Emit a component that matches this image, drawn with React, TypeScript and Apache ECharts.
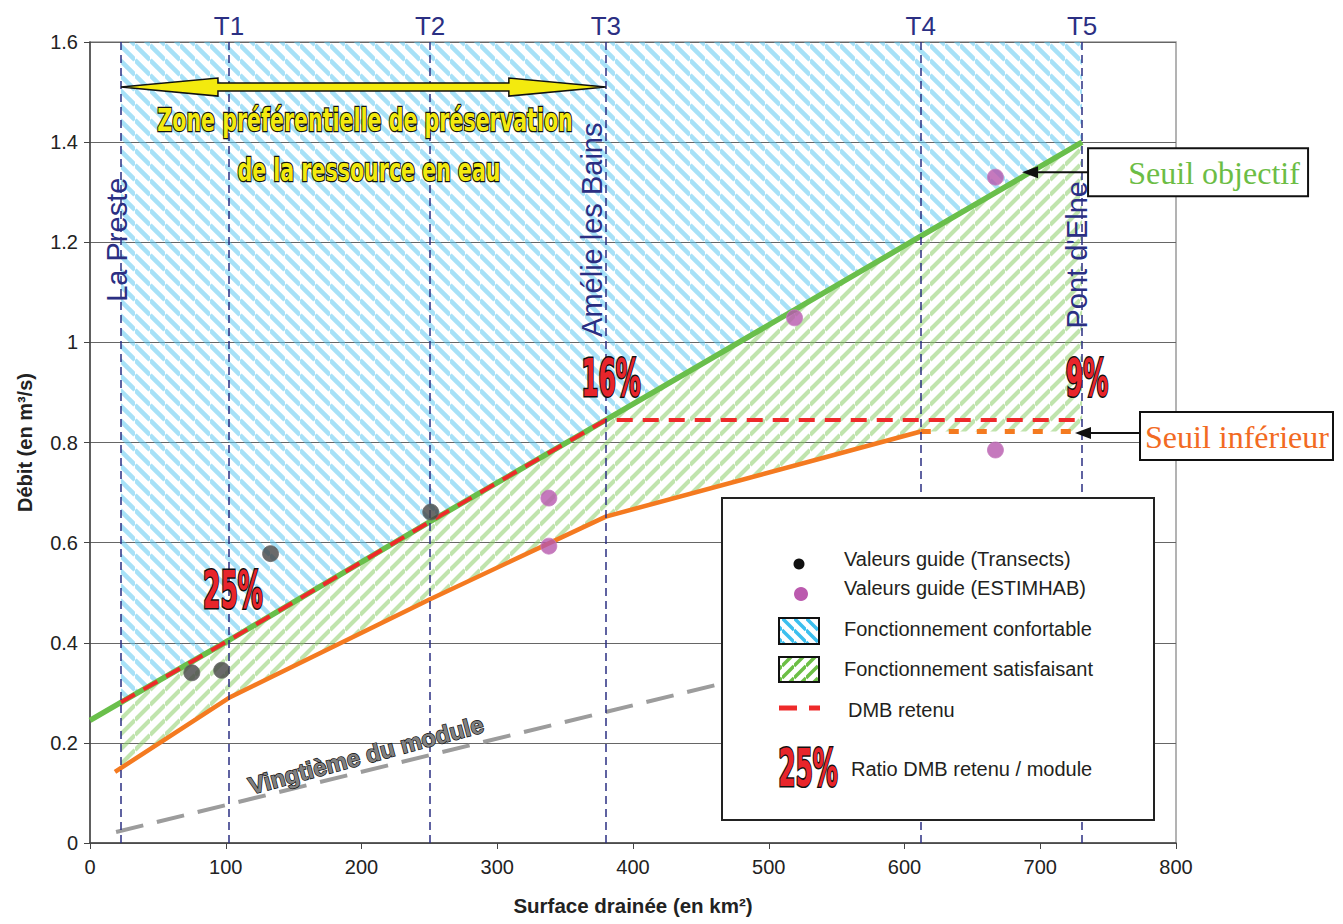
import React, { useEffect, useRef } from "react";
import * as echarts from "echarts";

// ---------- data ----------
const xTickValues = [0, 100, 200, 300, 400, 500, 600, 700, 800];
const yTickValues = [0, 0.2, 0.4, 0.6, 0.8, 1, 1.2, 1.4, 1.6];

const stationX = [22.8, 102.4, 250.5, 380, 612, 730.8];
const stationTopLabels = ["", "T1", "T2", "T3", "T4", "T5"];
const stationNames = ["La Preste", "Amélie les Bains", "Pont d'Elne"];

const objectifX = [0, 22.8, 102.4, 250.5, 380, 612, 730.8];
const objectifY = [0.245, 0.281, 0.405, 0.642, 0.845, 1.212, 1.4];

const inferieurX = [18.4, 102.4, 250.5, 380, 612];
const inferieurY = [0.142, 0.29, 0.487, 0.652, 0.822];
const inferieurPlateauX = [612, 730.8];
const inferieurPlateauY = [0.822, 0.822];

const satisfaisantLowerX = [730.8, 612, 380, 250.5, 102.4, 22.8];
const satisfaisantLowerY = [0.822, 0.822, 0.652, 0.487, 0.29, 0.15];

const dmbX = [22.8, 102.4, 250.5, 380, 730.8];
const dmbY = [0.281, 0.405, 0.642, 0.845, 0.845];

const vingtiemeX = [19.2, 730.8];
const vingtiemeY = [0.022, 0.495];

const transectsX = [75, 97, 133, 251];
const transectsY = [0.34, 0.345, 0.578, 0.661];
const estimhabX = [338, 338, 519, 667, 667];
const estimhabY = [0.689, 0.593, 1.049, 1.33, 0.785];

const ratioLabels = ["25%", "16%", "9%"];
const legendLabels = [
  "Valeurs guide (Transects)",
  "Valeurs guide (ESTIMHAB)",
  "Fonctionnement confortable",
  "Fonctionnement satisfaisant",
  "DMB retenu",
  "Ratio DMB retenu / module",
];
const zoneLines = ["Zone préférentielle de préservation", "de la ressource en eau"];
const seuilLabels = ["Seuil objectif", "Seuil inférieur"];
const vingtiemeLabel = "Vingtième du module";

// ---------- styles ----------
const SANS = "'Liberation Sans', Arial, Helvetica, sans-serif";
const NARROW = "'Liberation Sans Narrow', 'DejaVu Sans Condensed', 'Liberation Sans', sans-serif";
const SERIF = "'Liberation Serif', 'Times New Roman', serif";
const NAVY = "#2b2f83";

function makeHatch(dir: "back" | "fwd", color: string, p: number, lw: number) {
  const c = document.createElement("canvas");
  c.width = p;
  c.height = p;
  const ctx = c.getContext("2d")!;
  ctx.strokeStyle = color;
  ctx.lineWidth = lw;
  ctx.beginPath();
  for (const k of [-1, 0, 1]) {
    if (dir === "back") {
      ctx.moveTo(0, k * p);
      ctx.lineTo(p, p + k * p);
    } else {
      ctx.moveTo(0, p + k * p);
      ctx.lineTo(p, k * p);
    }
  }
  ctx.stroke();
  return { image: c.toDataURL(), repeat: "repeat", imageWidth: p, imageHeight: p };
}

const zip = (xs: number[], ys: number[]) => xs.map((x, i) => [x, ys[i]]);

export default function App() {
  const ref = useRef<HTMLDivElement>(null);

  useEffect(() => {
    const el = ref.current!;
    const chart = echarts.init(el, null, { renderer: "svg" });

    const bluePat = makeHatch("back", "rgba(95,200,240,0.55)", 15, 4.5);
    const greenPat = makeHatch("fwd", "rgba(140,205,105,0.55)", 15, 4.2);
    const blueLegendPat = makeHatch("back", "#3cbfee", 12, 3.5);
    const greenLegendPat = makeHatch("fwd", "#6cbf45", 12, 3.5);

    const option: any = {
      animation: false,
      backgroundColor: "#ffffff",
      grid: {
        left: 90,
        right: 167,
        top: 42,
        bottom: 81,
        show: true,
        borderColor: "#9a9a9a",
        borderWidth: 1.5,
        outerBoundsMode: "none",
      },
      xAxis: {
        type: "value",
        min: xTickValues[0],
        max: xTickValues[xTickValues.length - 1],
        interval: 100,
        name: "Surface drainée (en km²)",
        nameLocation: "middle",
        nameGap: 52,
        nameTextStyle: { fontFamily: SANS, fontWeight: "bold", fontSize: 20.5, color: "#222" },
        axisLine: { show: true, lineStyle: { color: "#444", width: 1.5 } },
        axisTick: { show: true, length: 6, lineStyle: { color: "#444" } },
        axisLabel: { fontFamily: SANS, fontSize: 20, color: "#222", margin: 14 },
        splitLine: { show: false },
      },
      yAxis: {
        type: "value",
        min: yTickValues[0],
        max: yTickValues[yTickValues.length - 1],
        interval: 0.2,
        name: "Débit (en m³/s)",
        nameLocation: "middle",
        nameGap: 55,
        nameTextStyle: { fontFamily: SANS, fontWeight: "bold", fontSize: 20, color: "#222" },
        axisLine: { show: true, lineStyle: { color: "#444", width: 1.5 } },
        axisTick: { show: true, length: 6, lineStyle: { color: "#444" } },
        axisLabel: {
          fontFamily: SANS,
          fontSize: 20,
          color: "#222",
          margin: 12,
          formatter: (v: number) => String(+v.toFixed(1)),
        },
        splitLine: { show: true, lineStyle: { color: "#666", width: 1 } },
      },
      series: [
        {
          type: "custom",
          name: "Fonctionnement confortable",
          silent: true,
          z: 1,
          data: [0],
          renderItem: (_p: any, api: any) => {
            const pts: number[][] = [];
            for (let i = 1; i < objectifX.length; i++) pts.push(api.coord([objectifX[i], objectifY[i]]));
            pts.push(api.coord([objectifX[objectifX.length - 1], yTickValues[yTickValues.length - 1]]));
            pts.push(api.coord([objectifX[1], yTickValues[yTickValues.length - 1]]));
            return { type: "polygon", shape: { points: pts }, style: { fill: bluePat } };
          },
        },
        {
          type: "custom",
          name: "Fonctionnement satisfaisant",
          silent: true,
          z: 1,
          data: [0],
          renderItem: (_p: any, api: any) => {
            const pts: number[][] = [];
            for (let i = 1; i < objectifX.length; i++) pts.push(api.coord([objectifX[i], objectifY[i]]));
            for (let i = 0; i < satisfaisantLowerX.length; i++)
              pts.push(api.coord([satisfaisantLowerX[i], satisfaisantLowerY[i]]));
            return { type: "polygon", shape: { points: pts }, style: { fill: greenPat } };
          },
        },
        {
          type: "line",
          name: "Vingtième du module",
          data: zip(vingtiemeX, vingtiemeY),
          symbol: "none",
          silent: true,
          z: 2,
          lineStyle: { color: "#9c9c9c", width: 4, type: [28, 14] },
        },
        {
          type: "line",
          name: "Seuil inférieur",
          data: zip(inferieurX, inferieurY),
          symbol: "none",
          silent: true,
          z: 3,
          lineStyle: { color: "#f47a20", width: 4.5 },
        },
        {
          type: "line",
          name: "Seuil inférieur plateau",
          data: zip(inferieurPlateauX, inferieurPlateauY),
          symbol: "none",
          silent: true,
          z: 3,
          lineStyle: { color: "#f47a20", width: 5, type: [10, 18] },
        },
        {
          type: "line",
          name: "Seuil objectif",
          data: zip(objectifX, objectifY),
          symbol: "none",
          silent: true,
          z: 3,
          lineStyle: { color: "#6abf4b", width: 5.5 },
          markLine: {
            silent: true,
            symbol: ["none", "none"],
            animation: false,
            lineStyle: { color: NAVY, width: 1.5, type: [8, 5] },
            label: {
              show: true,
              position: "end",
              distance: 3,
              formatter: (p: any) => p.name,
              fontFamily: SANS,
              fontSize: 26,
              color: NAVY,
            },
            emphasis: { disabled: true },
            data: stationX.map((x, i) => ({
              xAxis: x,
              name: stationTopLabels[i],
              label: { show: stationTopLabels[i] !== "" },
            })),
          },
        },
        {
          type: "line",
          name: "DMB retenu",
          data: zip(dmbX, dmbY),
          symbol: "none",
          silent: true,
          z: 4,
          lineStyle: { color: "#ee2a2a", width: 4, type: [16, 10] },
        },
        {
          type: "scatter",
          name: "Valeurs guide (Transects)",
          data: zip(transectsX, transectsY),
          symbolSize: 16,
          silent: true,
          z: 5,
          itemStyle: { color: "#454545", borderColor: "#6a6a6a", borderWidth: 1 },
        },
        {
          type: "scatter",
          name: "Valeurs guide (ESTIMHAB)",
          data: zip(estimhabX, estimhabY),
          symbolSize: 16,
          silent: true,
          z: 5,
          itemStyle: { color: "#b658ac", borderColor: "#c77fbf", borderWidth: 1 },
        },
      ],
    };

    chart.setOption(option);

    const P = (x: number, y: number) => chart.convertToPixel({ gridIndex: 0 }, [x, y]) as number[];

    const g: any[] = [];

    // yellow double arrow
    const [lx, ly] = P(stationX[0], 1.51);
    const [rx] = P(stationX[3], 1.51);
    const hl = 97, hh = 9, sh = 4;
    g.push({
      type: "polygon",
      z: 20,
      shape: {
        points: [
          [lx, ly], [lx + hl, ly - hh], [lx + hl, ly - sh], [rx - hl, ly - sh], [rx - hl, ly - hh],
          [rx, ly], [rx - hl, ly + hh], [rx - hl, ly + sh], [lx + hl, ly + sh], [lx + hl, ly + hh],
        ],
      },
      style: { fill: "#f3ea0e", stroke: "#111", lineWidth: 1.5 },
    });

    const heavyText = (text: string, x: number, y: number, size: number, fill: string, sx: number, sy: number, lw: number) => ({
      type: "text",
      z: 21,
      x,
      y,
      scaleX: sx,
      scaleY: sy,
      style: {
        text,
        fontFamily: NARROW,
        fontWeight: "bold",
        fontSize: size,
        fill,
        stroke: "#111",
        lineWidth: lw,
        align: "center",
        verticalAlign: "middle",
        textAlign: "center",
        textVerticalAlign: "middle",
      },
    });

    // zone texts
    const z1 = P(202.6, 1.444);
    const z2 = P(205.5, 1.344);
    g.push(heavyText(zoneLines[0], z1[0], z1[1], 26, "#f3ea0e", 0.88, 1.25, 2));
    g.push(heavyText(zoneLines[1], z2[0], z2[1], 26, "#f3ea0e", 0.88, 1.25, 2));

    // ratio texts
    const ratioAnchors = [[105.3, 0.505], [383.8, 0.929], [734.4, 0.929]];
    ratioAnchors.forEach((a, i) => {
      const p = P(a[0], a[1]);
      g.push(heavyText(ratioLabels[i], p[0], p[1], 36, "#e8252b", 0.77, 1.45, 2.2));
    });

    // station names (rotated)
    const stationAnchors = [[19.9, 1.205], [369.8, 1.225], [727.1, 1.175]];
    stationAnchors.forEach((a, i) => {
      const p = P(a[0], a[1]);
      g.push({
        type: "text",
        z: 21,
        x: p[0],
        y: p[1],
        rotation: Math.PI / 2,
        style: {
          text: stationNames[i],
          fontFamily: SANS,
          fontSize: 29,
          fill: NAVY,
          align: "center",
          verticalAlign: "middle",
          textAlign: "center",
          textVerticalAlign: "middle",
        },
      });
    });

    // Vingtième du module label
    const vp = P(203.3, 0.176);
    g.push({
      type: "text",
      z: 21,
      x: vp[0],
      y: vp[1],
      rotation: 0.262,
      style: {
        text: vingtiemeLabel,
        fontFamily: SANS,
        fontWeight: "bold",
        fontSize: 24,
        fill: "#808080",
        stroke: "#111",
        lineWidth: 1.4,
        align: "center",
        verticalAlign: "middle",
        textAlign: "center",
        textVerticalAlign: "middle",
      },
    });

    // callouts
    const callout = (tip: number[], boxX: number, boxY: number, boxW: number, boxH: number, textCx: number, text: string, color: string) => {
      const my = boxY + boxH / 2;
      g.push({ type: "line", z: 22, shape: { x1: boxX, y1: tip[1], x2: tip[0] + 12, y2: tip[1] }, style: { stroke: "#111", lineWidth: 2 } });
      g.push({
        type: "polygon",
        z: 22,
        shape: { points: [[tip[0], tip[1]], [tip[0] + 16, tip[1] - 6], [tip[0] + 16, tip[1] + 6]] },
        style: { fill: "#111" },
      });
      g.push({ type: "rect", z: 22, shape: { x: boxX, y: boxY, width: boxW, height: boxH }, style: { fill: "#fff", stroke: "#111", lineWidth: 2 } });
      g.push({
        type: "text",
        z: 23,
        x: boxX + textCx,
        y: my + 1,
        style: {
          text,
          fontFamily: SERIF,
          fontSize: 32,
          fill: color,
          align: "center",
          verticalAlign: "middle",
          textAlign: "center",
          textVerticalAlign: "middle",
        },
      });
    };
    const t1 = P(686.6, 1.34);
    callout(t1, t1[0] + 66, t1[1] - 24, 220, 48, 126, seuilLabels[0], "#6cbd45");
    const t2 = P(725.6, 0.819);
    callout(t2, t2[0] + 65, t2[1] - 21, 193, 48, 97, seuilLabels[1], "#f26a22");

    // legend
    const lt = (text: string, x: number, y: number) => ({
      type: "text",
      x,
      y,
      style: { text, fontFamily: SANS, fontSize: 20, fill: "#231f20", verticalAlign: "middle", textVerticalAlign: "middle" },
    });
    const legendChildren: any[] = [
      { type: "rect", shape: { x: 0, y: 0, width: 432, height: 322 }, style: { fill: "#fff", stroke: "#222", lineWidth: 2 } },
      { type: "circle", shape: { cx: 77, cy: 66, r: 5.5 }, style: { fill: "#111" } },
      lt(legendLabels[0], 122, 61),
      { type: "circle", shape: { cx: 79, cy: 96, r: 7 }, style: { fill: "#bb5aae" } },
      lt(legendLabels[1], 122, 90),
      { type: "rect", shape: { x: 57, y: 120, width: 40, height: 26 }, style: { fill: blueLegendPat, stroke: "#111", lineWidth: 2 } },
      lt(legendLabels[2], 122, 131),
      { type: "rect", shape: { x: 57, y: 159, width: 40, height: 25 }, style: { fill: greenLegendPat, stroke: "#111", lineWidth: 2 } },
      lt(legendLabels[3], 122, 171),
      { type: "line", shape: { x1: 57, y1: 210, x2: 75, y2: 210 }, style: { stroke: "#ee2a2a", lineWidth: 5 } },
      { type: "line", shape: { x1: 87, y1: 210, x2: 98, y2: 210 }, style: { stroke: "#ee2a2a", lineWidth: 5 } },
      lt(legendLabels[4], 126, 212),
      lt(legendLabels[5], 129, 271),
    ];
    const legendPct = heavyText(ratioLabels[0], 86, 270, 36, "#e8252b", 0.77, 1.45, 2.2);
    legendChildren.push(legendPct);
    g.push({ type: "group", x: 722, y: 498, z: 30, children: legendChildren.map((c) => ({ ...c, z: 30 })) });

    chart.setOption({ graphic: { elements: g } });

    return () => chart.dispose();
  }, []);

  return (
    <div
      ref={ref}
      style={{ position: "fixed", left: 0, top: 0, width: 1343, height: 924, background: "#fff" }}
    />
  );
}
